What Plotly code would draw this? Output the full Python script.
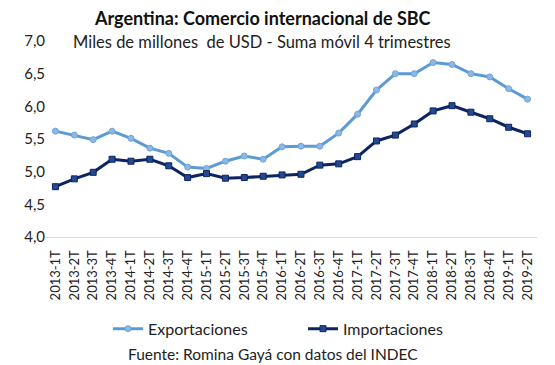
import plotly.graph_objects as go

categories = ["2013-1T", "2013-2T", "2013-3T", "2013-4T", "2014-1T", "2014-2T", "2014-3T", "2014-4T",
              "2015-1T", "2015-2T", "2015-3T", "2015-4T", "2016-1T", "2016-2T", "2016-3T", "2016-4T",
              "2017-1T", "2017-2T", "2017-3T", "2017-4T", "2018-1T", "2018-2T", "2018-3T", "2018-4T",
              "2019-1T", "2019-2T"]
exportaciones = [5.62, 5.56, 5.49, 5.62, 5.51, 5.36, 5.28, 5.07, 5.05, 5.16, 5.24, 5.19,
                 5.38, 5.39, 5.39, 5.59, 5.88, 6.25, 6.50, 6.50, 6.67, 6.64, 6.50, 6.45,
                 6.27, 6.11]
importaciones = [4.77, 4.89, 4.99, 5.19, 5.16, 5.19, 5.09, 4.91, 4.97, 4.90, 4.91, 4.93,
                 4.95, 4.96, 5.10, 5.12, 5.23, 5.47, 5.56, 5.73, 5.93, 6.01, 5.91, 5.81,
                 5.68, 5.58]
y_ticks = [4.0, 4.5, 5.0, 5.5, 6.0, 6.5, 7.0]

FONT = "Lato"
OFF = 8  # page body margin
W, H = 555 - OFF, 365 - OFF
PL, PR, PT, PB = 46 - OFF, 537 - OFF, 41.4 - OFF, 237.3 - OFF
PW, PH = PR - PL, PB - PT


def px(x):
    return (x - OFF - PL) / PW


def py(y):
    return (PB - (y - OFF)) / PH


fig = go.Figure()
fig.add_trace(go.Scatter(
    x=categories, y=exportaciones, name="Exportaciones", mode="lines+markers",
    line=dict(color="#5B9BD5", width=3),
    marker=dict(symbol="circle", size=6, color="#8DB8E3", line=dict(color="#6FA5DA", width=1)),
))
fig.add_trace(go.Scatter(
    x=categories, y=importaciones, name="Importaciones", mode="lines+markers",
    line=dict(color="#0C2461", width=3),
    marker=dict(symbol="square", size=6, color="#24498F", line=dict(color="#0C2461", width=1)),
))

fig.update_layout(
    width=W, height=H,
    margin=dict(l=PL, r=W - PR, t=PT, b=H - PB, autoexpand=False),
    paper_bgcolor="white", plot_bgcolor="white",
    separators=",.",
    font=dict(family=FONT, color="#222222"),
    showlegend=True,
    legend=dict(orientation="h", x=px(108), xanchor="left", y=py(329), yanchor="middle",
                font=dict(family=FONT, size=16, color="#222222"),
                entrywidth=150, entrywidthmode="pixels", itemwidth=30),
    xaxis=dict(type="category", range=[-0.5, 25.5], showgrid=False, showline=True,
               linecolor="#D9D9D9", linewidth=1, ticks="", ticklabelstandoff=7,
               tickangle=-90, tickfont=dict(family=FONT, size=13, color="#222222"),
               zeroline=False),
    yaxis=dict(range=[4.0, 7.0], tickvals=y_ticks, tickformat=".1f", showgrid=False,
               showline=False, zeroline=False, ticks="", ticklabelstandoff=0,
               tickfont=dict(family=FONT, size=15, color="#222222")),
    annotations=[
        dict(text="<b>Argentina: Comercio internacional de SBC</b>", xref="paper", yref="paper",
             x=px(262), y=py(18), xanchor="center", yanchor="middle",
             font=dict(family=FONT, size=18, color="#111111"), showarrow=False),
        dict(text="Miles de millones  de USD - Suma móvil 4 trimestres", xref="paper", yref="paper",
             x=px(262), y=py(42), xanchor="center", yanchor="middle",
             font=dict(family=FONT, size=16.5, color="#222222"), showarrow=False),
        dict(text="Fuente: Romina Gayá con datos del INDEC", xref="paper", yref="paper",
             x=px(273), y=py(354), xanchor="center", yanchor="middle",
             font=dict(family=FONT, size=15.5, color="#222222"), showarrow=False),
    ],
)

fig.write_html("out.html")
